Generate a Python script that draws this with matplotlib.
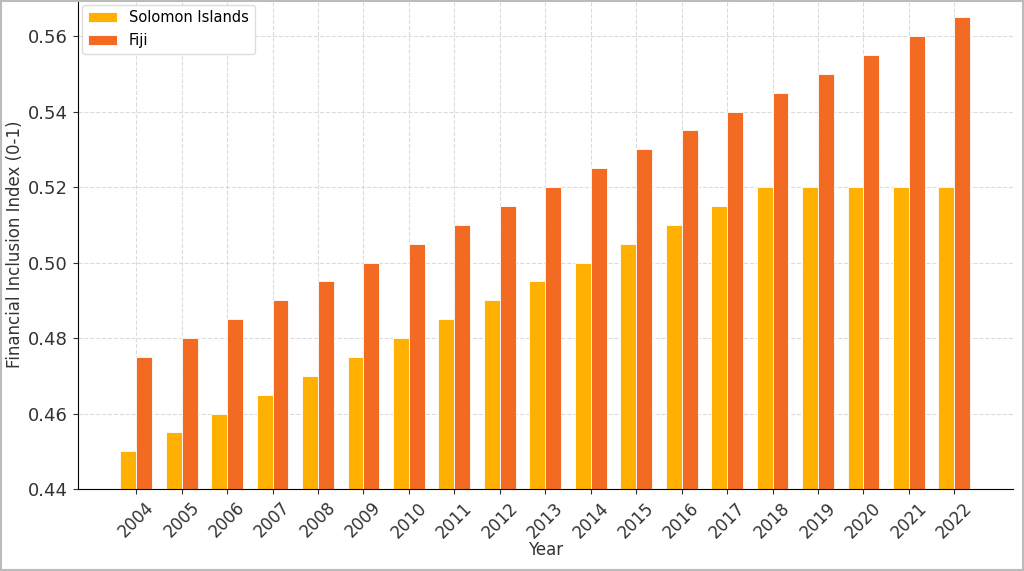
import numpy as np
import matplotlib.pyplot as plt
from matplotlib.patches import Rectangle

years = list(range(2004, 2023))
solomon = [0.450, 0.455, 0.460, 0.465, 0.470, 0.475, 0.480, 0.485, 0.490, 0.495,
           0.500, 0.505, 0.510, 0.515, 0.520, 0.520, 0.520, 0.520, 0.520]
fiji = [0.475, 0.480, 0.485, 0.490, 0.495, 0.500, 0.505, 0.510, 0.515, 0.520,
        0.525, 0.530, 0.535, 0.540, 0.545, 0.550, 0.555, 0.560, 0.565]

fig = plt.figure(figsize=(10.24, 5.71), dpi=100)
ax = fig.add_axes([0.076, 0.1436, 0.913, 0.856])

x = np.arange(len(years))
w = 0.35
ax.bar(x - w / 2, solomon, w, color="#FFB000", edgecolor="white", linewidth=0.6, label="Solomon Islands")
ax.bar(x + w / 2, fiji, w, color="#F36B23", edgecolor="white", linewidth=0.6, label="Fiji")

ax.set_ylim(0.44, 0.5695)
ax.set_xticks(x)
ax.set_xticklabels(years, rotation=45, fontsize=12, color="#333333")
ax.tick_params(axis="y", labelsize=13, colors="#333333")
ax.tick_params(axis="x", colors="#333333")
ax.set_xlabel("Year", fontsize=12, color="#333333", labelpad=0)
ax.set_ylabel("Financial Inclusion Index (0-1)", fontsize=12, color="#333333")
ax.yaxis.set_label_coords(-0.058, 0.5)
ax.grid(True, linestyle="--", color="#cccccc", linewidth=0.8, alpha=0.7)
ax.set_axisbelow(True)
ax.spines["top"].set_visible(False)
ax.spines["right"].set_visible(False)
ax.legend(loc="upper left", fontsize=10.5, framealpha=1, edgecolor="#dddddd",
          borderaxespad=0.3)

fig.patches.append(Rectangle((0.001, 0.002), 0.998, 0.996, transform=fig.transFigure,
                             fill=False, edgecolor="#bbbbbb", linewidth=1.5))

plt.savefig("out.png", dpi=100)
